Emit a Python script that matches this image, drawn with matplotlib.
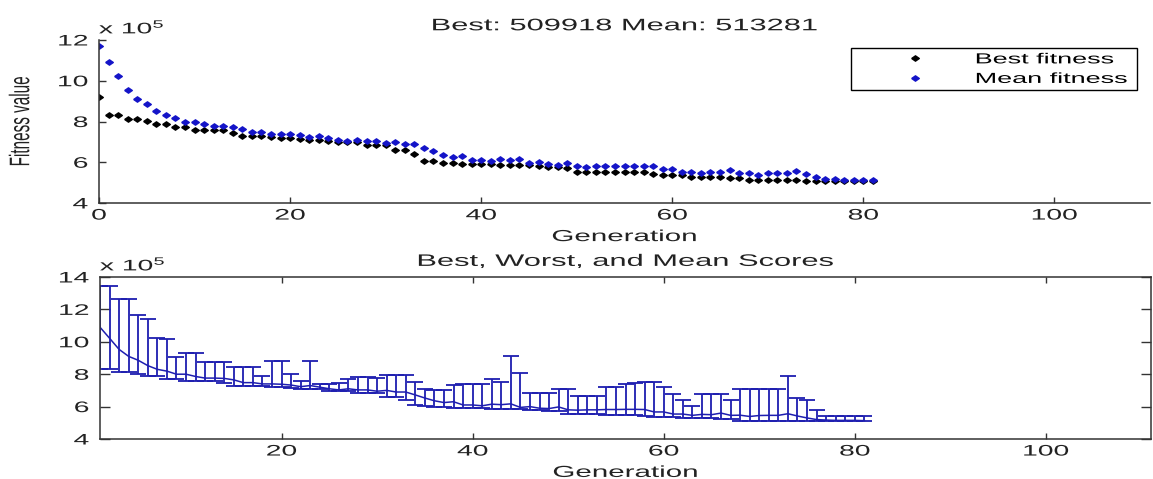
import numpy as np
import matplotlib
matplotlib.use("Agg")
import matplotlib.pyplot as plt
from matplotlib.patheffects import AbstractPathEffect
from matplotlib.transforms import Affine2D

# ---- data (fitness values in units of 1e5) ----
generations = list(range(0, 82))
best_fitness = [9.22, 8.30, 8.30, 8.12, 8.12, 8.04, 7.90, 7.90, 7.71, 7.71,
                7.56, 7.56, 7.56, 7.56, 7.43, 7.28, 7.28, 7.28, 7.25, 7.20,
                7.20, 7.15, 7.10, 7.10, 7.06, 6.98, 6.98, 6.98, 6.86, 6.86,
                6.86, 6.62, 6.62, 6.40, 6.08, 6.05, 5.95, 5.95, 5.93, 5.93,
                5.90, 5.90, 5.88, 5.85, 5.85, 5.85, 5.82, 5.78, 5.75, 5.72,
                5.54, 5.54, 5.52, 5.52, 5.51, 5.51, 5.50, 5.50, 5.40, 5.38,
                5.38, 5.36, 5.30, 5.30, 5.28, 5.28, 5.25, 5.22, 5.12, 5.11,
                5.11, 5.11, 5.11, 5.11, 5.10, 5.10, 5.10, 5.10, 5.10, 5.10,
                5.10, 5.09918]
mean_fitness = [11.71, 10.90, 10.22, 9.53, 9.10, 8.86, 8.53, 8.30, 8.19, 8.00,
                8.00, 7.86, 7.76, 7.76, 7.74, 7.65, 7.48, 7.48, 7.40, 7.40,
                7.38, 7.33, 7.23, 7.30, 7.20, 7.10, 7.03, 7.10, 7.03, 7.03,
                6.95, 7.00, 6.90, 6.90, 6.72, 6.53, 6.36, 6.25, 6.30, 6.10,
                6.10, 6.05, 6.15, 6.12, 6.17, 5.95, 6.00, 5.90, 5.88, 5.98,
                5.80, 5.78, 5.80, 5.80, 5.82, 5.82, 5.83, 5.83, 5.82, 5.67,
                5.67, 5.54, 5.54, 5.46, 5.52, 5.50, 5.60, 5.46, 5.47, 5.39,
                5.45, 5.46, 5.46, 5.56, 5.42, 5.30, 5.20, 5.17, 5.15, 5.15,
                5.15, 5.13281]
# worst score per generation, generations 1..81
worst_score = [13.43, 13.43, 12.65, 12.65, 11.64, 11.39, 10.25, 10.17, 9.04, 9.31,
               9.31, 8.73, 8.77, 8.77, 8.47, 8.47, 8.47, 7.88, 8.79, 8.79,
               8.02, 7.61, 8.79, 7.41, 7.41, 7.45, 7.72, 7.82, 7.82, 7.75,
               7.96, 7.96, 7.92, 7.50, 7.10, 7.05, 7.00, 7.35, 7.40, 7.41,
               7.41, 7.72, 7.50, 9.10, 8.08, 6.84, 6.84, 6.84, 7.10, 7.10,
               6.67, 6.67, 6.67, 7.20, 7.20, 7.41, 7.47, 7.51, 7.51, 7.20,
               6.80, 6.43, 6.02, 6.80, 6.80, 6.80, 6.39, 7.10, 7.10, 7.10,
               7.10, 7.10, 7.86, 6.55, 6.43, 5.78, 5.41, 5.41, 5.41, 5.41,
               5.41]

title_top = "Best: 509918 Mean: 513281"
title_bottom = "Best, Worst, and Mean Scores"
xticks_top = [0, 20, 40, 60, 80, 100]
yticks_top = [4, 6, 8, 10, 12]
xticks_bottom = [20, 40, 60, 80, 100]
yticks_bottom = [4, 6, 8, 10, 12, 14]

SX = 1.85  # horizontal stretch of the reference's glyphs


class HStretch(AbstractPathEffect):
    def __init__(self, sx=SX, anchor="center"):
        super().__init__()
        self.sx = sx
        self.anchor = anchor

    def draw_path(self, renderer, gc, tpath, affine, rgbFace=None):
        bb = tpath.get_extents(affine)
        if not np.all(np.isfinite([bb.x0, bb.x1])):
            renderer.draw_path(gc, tpath, affine, rgbFace)
            return
        if self.anchor == "left":
            x0 = bb.x0
        elif self.anchor == "right":
            x0 = bb.x1
        else:
            x0 = 0.5 * (bb.x0 + bb.x1)
        aff = affine + Affine2D().translate(-x0, 0).scale(self.sx, 1.0).translate(x0, 0)
        renderer.draw_path(gc, tpath, aff, rgbFace)


plt.rcParams["font.family"] = ["Liberation Sans", "DejaVu Sans"]
plt.rcParams["font.size"] = 11
plt.rcParams["mathtext.fontset"] = "custom"
plt.rcParams["mathtext.rm"] = "Liberation Sans"
plt.rcParams["mathtext.it"] = "Liberation Sans"

W, H = 1153, 479
fig = plt.figure(figsize=(W / 100, H / 100), dpi=100)
ax1 = fig.add_axes([99 / W, 1 - 203 / H, 1051 / W, 163 / H])
ax2 = fig.add_axes([100 / W, 1 - 439 / H, 1051 / W, 162 / H])

axis_col = "#333333"
text_col = "#222222"
blue = "#1414c8"
eb_blue = "#1e1eb0"
diamond = [(-1, 0), (0, 0.7), (1, 0), (0, -0.7), (-1, 0)]

# ---- top plot ----
ax1.plot(generations, best_fitness, linestyle="none", marker=diamond, markersize=5.5,
         color="black", label="Best fitness")
ax1.plot(generations, mean_fitness, linestyle="none", marker=diamond, markersize=5.5,
         color=blue, label="Mean fitness")
ax1.set_xlim(0, 110)
ax1.set_ylim(4, 12)
ax1.set_xticks(xticks_top)
ax1.set_yticks(yticks_top)
for s in ["top", "right"]:
    ax1.spines[s].set_visible(False)
for s in ["left", "bottom"]:
    ax1.spines[s].set_color(axis_col)
    ax1.spines[s].set_linewidth(1.1)
ax1.tick_params(axis="x", direction="in", length=4.5, width=1, color=axis_col, pad=4)
ax1.tick_params(axis="y", direction="in", length=5, width=1, color=axis_col, pad=8)
ax1.set_title(title_top, pad=7, fontsize=12, color=text_col)
ax1.set_xlabel("Generation", fontsize=11.5, color=text_col)
ax1.xaxis.set_label_coords(0.5, -0.16)
ax1.set_ylabel("Fitness value", fontsize=11, color=text_col)
ax1.yaxis.set_label_coords(-0.068, 0.5)
ax1.text(0.0, 1.04, "x 10$^{5}$", transform=ax1.transAxes, ha="left", va="baseline",
         fontsize=11, color=text_col, path_effects=[HStretch(anchor="left")])

leg = ax1.legend(loc="upper left",
                 bbox_to_anchor=(851 / W, 1 - 89 / H, 286 / W, 41 / H),
                 bbox_transform=fig.transFigure, mode="expand", numpoints=1,
                 handlelength=8.2, handletextpad=0.05, borderpad=0.3,
                 labelspacing=0.38, fontsize=10.5, fancybox=False, framealpha=1,
                 edgecolor="black", borderaxespad=0)
leg.get_frame().set_linewidth(1.0)
for t in leg.get_texts():
    t.set_path_effects([HStretch(anchor="left")])

# ---- bottom plot ----
g2 = np.array(generations[1:])
m2 = np.array(mean_fitness[1:])
b2 = np.array(best_fitness[1:])
w2 = np.array(worst_score)
ax2.errorbar(g2, m2, yerr=[np.maximum(m2 - b2, 0), np.maximum(w2 - m2, 0)],
             color=eb_blue, linewidth=1.1, elinewidth=1.3, capsize=5.5, capthick=1.3)
ax2.set_xlim(1, 111)
ax2.set_ylim(4, 14)
ax2.set_xticks(xticks_bottom)
ax2.set_yticks(yticks_bottom)
for s in ax2.spines.values():
    s.set_color(axis_col)
    s.set_linewidth(1.1)
ax2.tick_params(axis="x", direction="in", length=4.5, width=1, color=axis_col,
                top=True, pad=4)
ax2.tick_params(axis="y", direction="in", length=7, width=1, color=axis_col,
                right=True, pad=8)
ax2.set_title(title_bottom, pad=8, fontsize=12, color=text_col)
ax2.set_xlabel("Generation", fontsize=11.5, color=text_col)
ax2.xaxis.set_label_coords(0.5, -0.16)
ax2.text(0.0, 1.04, "x 10$^{5}$", transform=ax2.transAxes, ha="left", va="baseline",
         fontsize=11, color=text_col, path_effects=[HStretch(anchor="left")])

for ax in (ax1, ax2):
    for lbl in ax.get_xticklabels():
        lbl.set_path_effects([HStretch(anchor="center")])
        lbl.set_color(text_col)
    for lbl in ax.get_yticklabels():
        lbl.set_path_effects([HStretch(anchor="right")])
        lbl.set_color(text_col)
    ax.title.set_path_effects([HStretch(anchor="center")])
    ax.xaxis.label.set_path_effects([HStretch(anchor="center")])
ax1.yaxis.label.set_path_effects([HStretch(anchor="center")])

fig.savefig("out.png", dpi=100, facecolor="white")
